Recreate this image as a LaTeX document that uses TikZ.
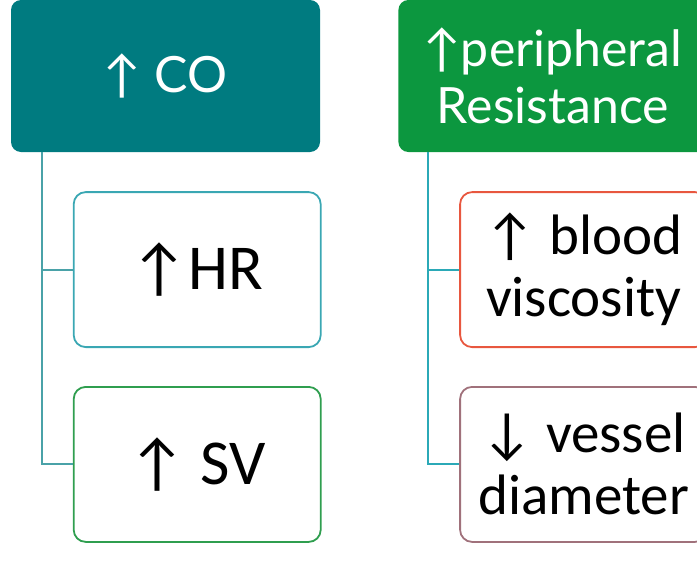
\documentclass[tikz,border=0pt]{standalone}
\usepackage{fontspec}
\setmainfont{Carlito}
\newfontfamily\headfont{Lato}
\usetikzlibrary{positioning,calc}
\definecolor{coteal}{HTML}{007B80}
\definecolor{resgreen}{HTML}{0C973F}
\definecolor{hrline}{HTML}{3AA7B3}
\definecolor{svline}{HTML}{2F9E4F}
\definecolor{bvline}{HTML}{E8573F}
\definecolor{vdline}{HTML}{A0717B}
\definecolor{coline}{HTML}{4AA2A8}
\definecolor{resline}{HTML}{2BA9B7}
\tikzset{
  head/.style={rounded corners=10pt, align=center, inner sep=0pt,
               minimum width=309pt, minimum height=152pt, text=white,
               font=\headfont\fontsize{50}{57}\selectfont},
  leaf/.style={draw, line width=1.8pt, rounded corners=12pt, align=center,
               inner sep=0pt, minimum width=247pt, minimum height=155pt},
  bigtxt/.style={font=\fontsize{64}{70}\selectfont},
  twotxt/.style={font=\fontsize{57}{62}\selectfont},
  link/.style={line width=2pt},
}
\begin{document}
\begin{tikzpicture}
    \clip (0,0) rectangle (697pt,-563pt);
    \node[head,fill=coteal] (co) at (165.5pt,-76pt) {↑ CO};
    \node[head,fill=resgreen,right=78pt of co] (res) {↑peripheral\\Resistance};
    \node[leaf,draw=hrline,bigtxt,below right=39pt and 62pt of co.south west] (hr) {↑HR};
    \node[leaf,draw=svline,bigtxt,below=38pt of hr] (sv) {↑ SV};
    \node[leaf,draw=bvline,twotxt,below right=39pt and 61pt of res.south west] (bv) {↑ blood\\viscosity};
    \node[leaf,draw=vdline,twotxt,below=38pt of bv] (vd) {↓ vessel\\diameter};
    \coordinate (cotrunk) at ($(co.south west)+(31pt,0)$);
    \coordinate (restrunk) at ($(res.south west)+(30pt,0)$);
    \draw[link,coline] (cotrunk) |- (hr.west);
    \draw[link,coline] (cotrunk) |- (sv.west);
    \draw[link,resline] (restrunk) |- (bv.west);
    \draw[link,resline] (restrunk) |- (vd.west);
  \end{tikzpicture}
\end{document}
